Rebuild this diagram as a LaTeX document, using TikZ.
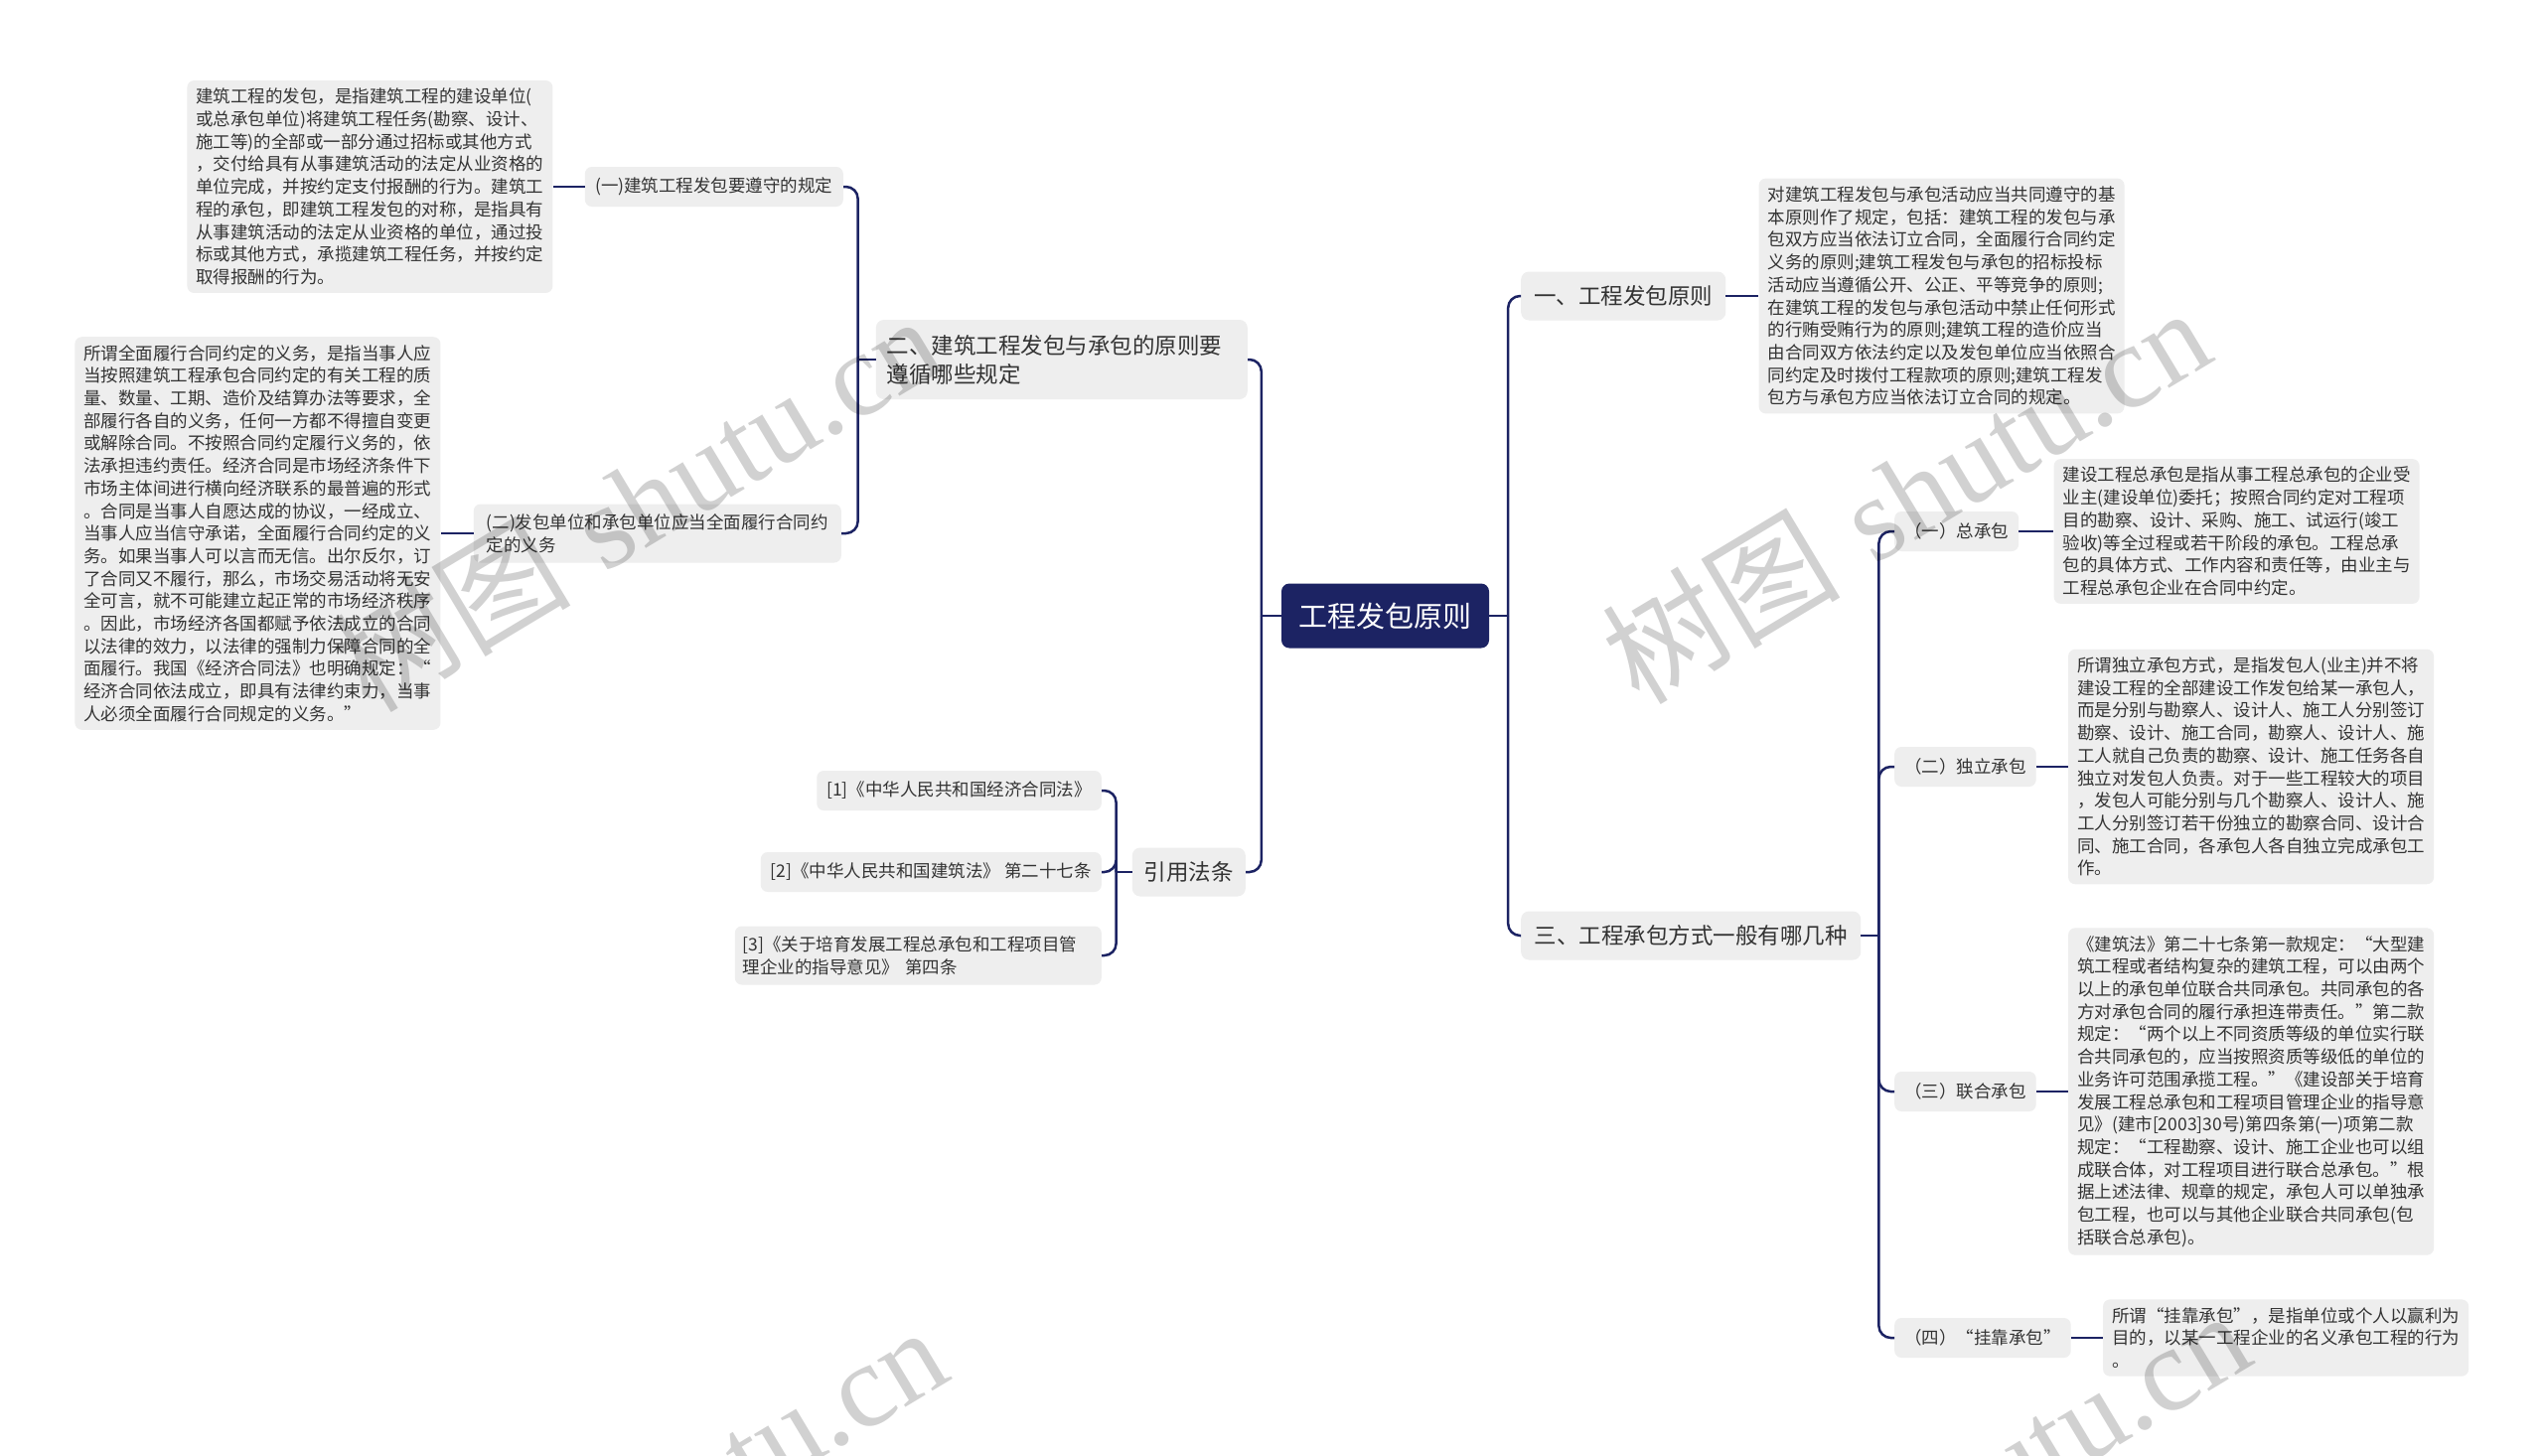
\documentclass[tikz,border=0pt]{standalone}
\usepackage{fontspec}
\setmainfont{Noto Sans CJK SC}
\newfontfamily\wmcjk{Noto Sans CJK SC}
\newfontfamily\wmlat{Liberation Serif}
\definecolor{navy}{RGB}{28,35,99}
\definecolor{boxgray}{RGB}{238,238,238}
\definecolor{txt}{RGB}{51,51,51}
\begin{document}
\begin{tikzpicture}[x=1pt,y=-1pt,
  rootbox/.style={fill=navy, rounded corners=8pt, text=white, font=\fontsize{29pt}{34pt}\selectfont, minimum width=209pt, minimum height=65pt, inner sep=0pt},
  mainbox/.style={fill=boxgray, rounded corners=8pt, text=txt, align=left, font=\fontsize{22.5pt}{29pt}\selectfont, minimum height=49pt, inner xsep=12pt, inner ysep=8pt},
  labelbox/.style={fill=boxgray, rounded corners=7pt, text=txt, align=left, font=\fontsize{17.5pt}{22.7pt}\selectfont, minimum height=40pt, inner xsep=10pt, inner ysep=8pt},
  detailbox/.style={fill=boxgray, rounded corners=7pt, text=txt, align=left, font=\fontsize{17.5pt}{22.7pt}\selectfont, inner xsep=9pt, inner ysep=8pt},
  link/.style={draw=navy, line width=2.5pt, rounded corners=12pt},
  wm/.style={text=black, text opacity=0.18, inner sep=0pt, font=\fontsize{120pt}{124pt}\selectfont},
]
\fill[white] (0,0) rectangle (2560,1465);
\useasboundingbox (0,0) rectangle (2560,1465);

% root
\node[rootbox] (root) at (1394.5,620) {工程发包原则};

% right branch
\node[mainbox, anchor=west, minimum width=206pt] (R1) at (1531,298) {一、工程发包原则};
\node[detailbox, anchor=west] (R1d) at ([xshift=33pt]R1.east) {对建筑工程发包与承包活动应当共同遵守的基\\本原则作了规定，包括：建筑工程的发包与承\\包双方应当依法订立合同，全面履行合同约定\\义务的原则;建筑工程发包与承包的招标投标\\活动应当遵循公开、公正、平等竞争的原则;\\在建筑工程的发包与承包活动中禁止任何形式\\的行贿受贿行为的原则;建筑工程的造价应当\\由合同双方依法约定以及发包单位应当依照合\\同约定及时拨付工程款项的原则;建筑工程发\\包方与承包方应当依法订立合同的规定。};

\node[mainbox, anchor=west, minimum width=342pt] (R3) at (1531,942) {三、工程承包方式一般有哪几种};

\node[labelbox, anchor=west, minimum width=119pt] (R3a) at (1907,535) {（一）总承包};
\node[detailbox, anchor=west] (R3ad) at ([xshift=35pt]R3a.east) {建设工程总承包是指从事工程总承包的企业受\\业主(建设单位)委托；按照合同约定对工程项\\目的勘察、设计、采购、施工、试运行(竣工\\验收)等全过程或若干阶段的承包。工程总承\\包的具体方式、工作内容和责任等，由业主与\\工程总承包企业在合同中约定。};

\node[labelbox, anchor=west, minimum width=139pt] (R3b) at (1907,772) {（二）独立承包};
\node[detailbox, anchor=west] (R3bd) at ([xshift=32pt]R3b.east) {所谓独立承包方式，是指发包人(业主)并不将\\建设工程的全部建设工作发包给某一承包人，\\而是分别与勘察人、设计人、施工人分别签订\\勘察、设计、施工合同，勘察人、设计人、施\\工人就自己负责的勘察、设计、施工任务各自\\独立对发包人负责。对于一些工程较大的项目\\，发包人可能分别与几个勘察人、设计人、施\\工人分别签订若干份独立的勘察合同、设计合\\同、施工合同，各承包人各自独立完成承包工\\作。};

\node[labelbox, anchor=west, minimum width=139pt] (R3c) at (1907,1099) {（三）联合承包};
\node[detailbox, anchor=west] (R3cd) at ([xshift=32pt]R3c.east) {《建筑法》第二十七条第一款规定：“大型建\\筑工程或者结构复杂的建筑工程，可以由两个\\以上的承包单位联合共同承包。共同承包的各\\方对承包合同的履行承担连带责任。”第二款\\规定：“两个以上不同资质等级的单位实行联\\合共同承包的，应当按照资质等级低的单位的\\业务许可范围承揽工程。”《建设部关于培育\\发展工程总承包和工程项目管理企业的指导意\\见》(建市[2003]30号)第四条第(一)项第二款\\规定：“工程勘察、设计、施工企业也可以组\\成联合体，对工程项目进行联合总承包。”根\\据上述法律、规章的规定，承包人可以单独承\\包工程，也可以与其他企业联合共同承包(包\\括联合总承包)。};

\node[labelbox, anchor=west, minimum width=175pt] (R3d) at (1907,1347) {（四）“挂靠承包”};
\node[detailbox, anchor=west] (R3dd) at ([xshift=32pt]R3d.east) {所谓“挂靠承包”，是指单位或个人以赢利为\\目的，以某一工程企业的名义承包工程的行为\\。};

% left branch
\node[mainbox, anchor=east, text width=352pt, inner xsep=11pt, minimum height=80pt] (L2) at (1256,362) {二、建筑工程发包与承包的原则要\\遵循哪些规定};

\node[labelbox, anchor=east, minimum width=260pt] (L2a) at (849,188) {(一)建筑工程发包要遵守的规定};
\node[detailbox, anchor=east] (L2ad) at ([xshift=-32pt]L2a.west) {建筑工程的发包，是指建筑工程的建设单位(\\或总承包单位)将建筑工程任务(勘察、设计、\\施工等)的全部或一部分通过招标或其他方式\\，交付给具有从事建筑活动的法定从业资格的\\单位完成，并按约定支付报酬的行为。建筑工\\程的承包，即建筑工程发包的对称，是指具有\\从事建筑活动的法定从业资格的单位，通过投\\标或其他方式，承揽建筑工程任务，并按约定\\取得报酬的行为。};

\node[labelbox, anchor=east, minimum width=370pt, minimum height=59pt] (L2b) at (847,537) {(二)发包单位和承包单位应当全面履行合同约\\定的义务};
\node[detailbox, anchor=east] (L2bd) at ([xshift=-33pt]L2b.west) {所谓全面履行合同约定的义务，是指当事人应\\当按照建筑工程承包合同约定的有关工程的质\\量、数量、工期、造价及结算办法等要求，全\\部履行各自的义务，任何一方都不得擅自变更\\或解除合同。不按照合同约定履行义务的，依\\法承担违约责任。经济合同是市场经济条件下\\市场主体间进行横向经济联系的最普遍的形式\\。合同是当事人自愿达成的协议，一经成立、\\当事人应当信守承诺，全面履行合同约定的义\\务。如果当事人可以言而无信。出尔反尔，订\\了合同又不履行，那么，市场交易活动将无安\\全可言，就不可能建立起正常的市场经济秩序\\。因此，市场经济各国都赋予依法成立的合同\\以法律的效力，以法律的强制力保障合同的全\\面履行。我国《经济合同法》也明确规定：“\\经济合同依法成立，即具有法律约束力，当事\\人必须全面履行合同规定的义务。”};

\node[mainbox, anchor=east, minimum width=111pt] (L3) at (1254,878) {引用法条};
\node[labelbox, anchor=east] (L3a) at (1109,796) {[1]《中华人民共和国经济合同法》};
\node[labelbox, anchor=east] (L3b) at (1109,878) {[2]《中华人民共和国建筑法》 第二十七条};
\node[labelbox, anchor=east, text width=353pt, inner xsep=8pt, minimum height=59pt] (L3c) at (1109,962) {[3]《关于培育发展工程总承包和工程项目管\\理企业的指导意见》 第四条};

% junction coordinates
\coordinate (jR) at ([xshift=19pt]root.east);
\coordinate (jL) at ([xshift=-20pt]root.west);
\coordinate (jR3) at ([xshift=18pt]R3.east);
\coordinate (jL2) at ([xshift=-18pt]L2.west);
\coordinate (jL3) at ([xshift=-16pt]L3.west);

% connectors
\draw[link] (root.east) -- (jR);
\draw[link] (jR) |- (R1.west);
\draw[link] (jR) |- (R3.west);
\draw[link] (R1.east) -- (R1.east -| R1d.west);
\draw[link] (R3.east) -- (jR3);
\draw[link] (jR3) |- (R3a.west);
\draw[link] (jR3) |- (R3b.west);
\draw[link] (jR3) |- (R3c.west);
\draw[link] (jR3) |- (R3d.west);
\draw[link] (R3a.east) -- (R3a.east -| R3ad.west);
\draw[link] (R3b.east) -- (R3b.east -| R3bd.west);
\draw[link] (R3c.east) -- (R3c.east -| R3cd.west);
\draw[link] (R3d.east) -- (R3d.east -| R3dd.west);

\draw[link] (root.west) -- (jL);
\draw[link] (jL) |- (L2.east);
\draw[link] (jL) |- (L3.east);
\draw[link] (L2.west) -- (jL2);
\draw[link] (jL2) |- (L2a.east);
\draw[link] (jL2) |- (L2b.east);
\draw[link] (L2a.west) -- (L2a.west -| L2ad.east);
\draw[link] (L2b.west) -- (L2b.west -| L2bd.east);
\draw[link] (L3.west) -- (jL3);
\draw[link] (jL3) |- (L3a.east);
\draw[link] (jL3) |- (L3b.east);
\draw[link] (jL3) |- (L3c.east);

% watermarks
\node[wm, rotate=31, anchor=base west] (wm1) at (1650,712) {\wmcjk 树图\hspace{0.3em}\wmlat shutu.cn};
\node[wm, rotate=31, anchor=base west] (wm2) at (372,720) {\wmcjk 树图\hspace{0.3em}\wmlat shutu.cn};
\node[wm, rotate=31, anchor=base west] (wm3) at (1690,1722) {\wmcjk 树图\hspace{0.3em}\wmlat shutu.cn};
\node[wm, rotate=31, anchor=base west] (wm4) at (378,1738) {\wmcjk 树图\hspace{0.3em}\wmlat shutu.cn};
\end{tikzpicture}
\end{document}
